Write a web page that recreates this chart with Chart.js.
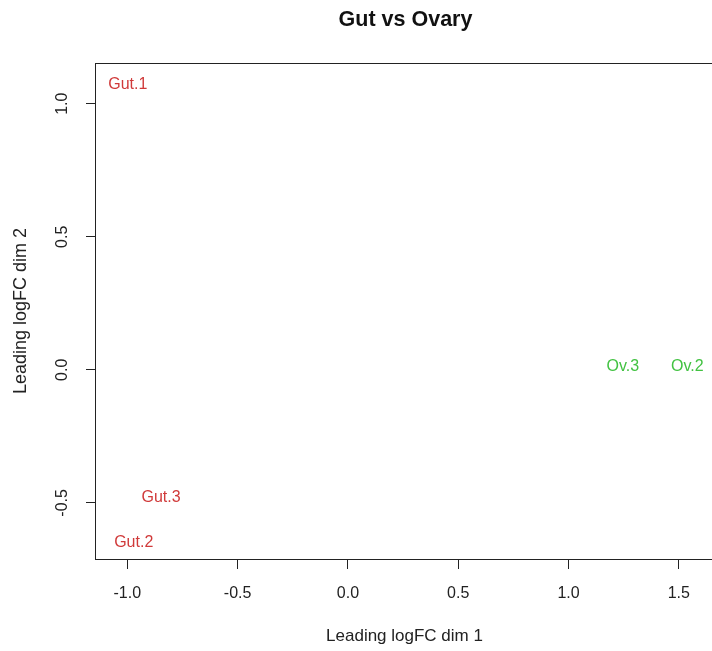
<!DOCTYPE html>
<html>
<head>
<meta charset="utf-8">
<script src="https://cdn.jsdelivr.net/npm/chart.js@4"></script>
<style>
  body { margin: 0; overflow: hidden; background: #fff; }
  #wrap { width: 716px; height: 651px; }
</style>
</head>
<body>
<div id="wrap"><canvas id="myChart" width="716" height="651"></canvas></div>
<script>
// MDS sample positions (leading logFC dims)
const sampleNames = ['Gut.1', 'Gut.2', 'Gut.3', 'Ov.2', 'Ov.3'];
const dim1 = [-0.998, -0.971, -0.847, 1.539, 1.246];
const dim2 = [1.070, -0.649, -0.479, 0.013, 0.013];
const groups = ['Gut', 'Gut', 'Gut', 'Ovary', 'Ovary'];

const xTicks = [-1.0, -0.5, 0.0, 0.5, 1.0, 1.5];
const yTicks = [-0.5, 0.0, 0.5, 1.0];

const groupColors = { Gut: '#d03a3a', Ovary: '#42c242' };
const FONT = '"Liberation Sans", Arial, sans-serif';

const points = dim1.map((x, i) => ({ x: x, y: dim2[i] }));

// draws the sample names at their points, the box, the title and rotated y labels
const textPlot = {
    id: 'textPlot',
    afterDatasetsDraw(chart) {
        const ctx = chart.ctx;
        const meta = chart.getDatasetMeta(0);
        ctx.save();
        ctx.font = '16px ' + FONT;
        ctx.textAlign = 'center';
        ctx.textBaseline = 'middle';
        meta.data.forEach((pt, i) => {
            ctx.fillStyle = groupColors[groups[i]];
            ctx.fillText(sampleNames[i], pt.x, pt.y);
        });
        ctx.restore();
    },
    afterDraw(chart) {
        const ctx = chart.ctx;
        const a = chart.chartArea;
        ctx.save();
        ctx.strokeStyle = '#222';
        ctx.lineWidth = 1;
        ctx.strokeRect(a.left - 0.5, a.top + 0.5, a.right - a.left, a.bottom - a.top);

        ctx.fillStyle = '#111';
        ctx.font = 'bold 21.5px ' + FONT;
        ctx.textAlign = 'center';
        ctx.textBaseline = 'middle';
        ctx.fillText('Gut vs Ovary', (a.left + a.right) / 2 + 1, 20);

        const ys = chart.scales.y;
        ctx.font = '16px ' + FONT;
        ctx.fillStyle = '#222';
        ys.ticks.forEach(t => {
            const py = ys.getPixelForValue(t.value);
            ctx.save();
            ctx.translate(63, py);
            ctx.rotate(-Math.PI / 2);
            ctx.fillText(t.value.toFixed(1), 0, 0);
            ctx.restore();
        });
        ctx.restore();
    }
};

const config = {
    type: 'scatter',
    data: {
        datasets: [{
            data: points,
            pointRadius: 0,
            pointHoverRadius: 0
        }]
    },
    options: {
        responsive: false,
        animation: false,
        layout: { padding: { left: 0, top: 63, right: 3, bottom: 0 } },
        plugins: {
            legend: { display: false },
            tooltip: { enabled: false }
        },
        scales: {
            x: {
                min: -1.142,
                max: 1.655,
                afterBuildTicks: s => { s.ticks = xTicks.map(v => ({ value: v })); },
                afterFit: s => { s.height = 92; },
                border: { display: false },
                grid: { drawOnChartArea: false, drawTicks: true, tickLength: 10, color: '#222' },
                ticks: {
                    color: '#222',
                    font: { family: FONT, size: 16 },
                    padding: 15,
                    maxRotation: 0,
                    callback: v => v.toFixed(1)
                },
                title: {
                    display: true,
                    text: 'Leading logFC dim 1',
                    color: '#222',
                    font: { family: FONT, size: 17 },
                    padding: { top: 0, bottom: 4 }
                }
            },
            y: {
                min: -0.711,
                max: 1.153,
                afterBuildTicks: s => { s.ticks = yTicks.map(v => ({ value: v })); },
                afterFit: s => { s.width = 96; },
                border: { display: false },
                grid: { drawOnChartArea: false, drawTicks: true, tickLength: 10, color: '#222' },
                ticks: { display: false },
                title: {
                    display: true,
                    text: 'Leading logFC dim 2',
                    color: '#222',
                    font: { family: FONT, size: 18 },
                    padding: { top: 10, bottom: 0 }
                }
            }
        }
    },
    plugins: [textPlot]
};

const myChart = new Chart(document.getElementById('myChart').getContext('2d'), config);
</script>
</body>
</html>
